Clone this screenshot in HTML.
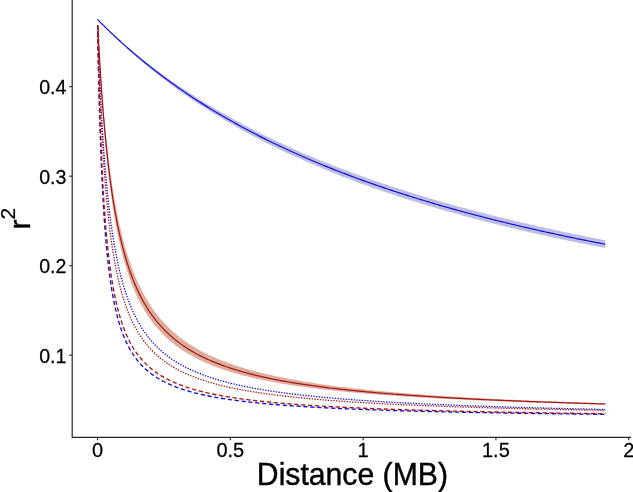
<!DOCTYPE html>
<html><head><meta charset="utf-8"><title>LD decay</title>
<style>
html,body{margin:0;padding:0;background:#fff;}
svg{display:block;}
text{font-family:"Liberation Sans",Arial,Helvetica,sans-serif;fill:#000;}
.t{font-size:20px;stroke:#000;stroke-width:0.25px;}
.ttl{font-size:30px;stroke:#000;stroke-width:0.4px;}
</style></head>
<body>
<svg width="633" height="492" viewBox="0 0 633 492">
<rect width="633" height="492" fill="#ffffff"/>
<path d="M97.50,19.39 L97.50,19.39 L97.50,19.39 L97.51,19.40 L97.52,19.41 L97.53,19.42 L97.55,19.44 L97.57,19.46 L97.59,19.48 L97.62,19.51 L97.65,19.54 L97.69,19.57 L97.73,19.61 L97.77,19.66 L97.82,19.70 L97.87,19.75 L97.93,19.81 L97.99,19.87 L98.06,19.93 L98.13,20.00 L98.20,20.08 L98.28,20.15 L98.36,20.24 L98.45,20.32 L98.55,20.41 L98.65,20.51 L98.75,20.61 L98.86,20.72 L98.97,20.83 L99.09,20.94 L99.21,21.06 L99.34,21.19 L99.47,21.31 L99.61,21.45 L99.75,21.59 L99.90,21.73 L100.06,21.88 L100.21,22.03 L100.38,22.19 L100.55,22.36 L100.72,22.52 L100.90,22.70 L101.09,22.88 L101.28,23.06 L101.47,23.25 L101.67,23.44 L101.88,23.64 L102.09,23.84 L102.31,24.05 L102.53,24.27 L102.76,24.49 L103.00,24.71 L103.24,24.94 L103.48,25.17 L103.73,25.41 L103.99,25.66 L104.25,25.90 L104.52,26.16 L104.80,26.42 L105.08,26.68 L105.36,26.95 L105.65,27.23 L105.95,27.51 L106.25,27.79 L106.56,28.08 L106.87,28.38 L107.20,28.68 L107.52,28.98 L107.85,29.29 L108.19,29.60 L108.53,29.92 L108.88,30.25 L109.24,30.58 L109.60,30.91 L109.97,31.25 L110.34,31.60 L110.72,31.95 L111.11,32.30 L111.50,32.66 L111.90,33.03 L112.30,33.39 L112.71,33.77 L113.13,34.15 L113.55,34.53 L113.98,34.92 L114.42,35.31 L114.86,35.71 L115.30,36.11 L115.76,36.52 L116.22,36.93 L116.68,37.35 L117.15,37.77 L117.63,38.20 L118.12,38.63 L118.61,39.06 L119.10,39.50 L119.61,39.95 L120.12,40.40 L120.63,40.85 L121.16,41.31 L121.69,41.77 L122.22,42.24 L122.76,42.71 L123.31,43.18 L123.86,43.66 L124.43,44.15 L124.99,44.63 L125.57,45.13 L126.15,45.62 L126.73,46.13 L127.33,46.63 L127.93,47.14 L128.53,47.65 L129.15,48.17 L129.77,48.69 L130.39,49.22 L131.02,49.75 L131.66,50.28 L132.31,50.82 L132.96,51.36 L133.62,51.91 L134.29,52.46 L134.96,53.01 L135.64,53.56 L136.32,54.13 L137.01,54.69 L137.71,55.26 L138.42,55.83 L139.13,56.40 L139.85,56.98 L140.58,57.56 L141.31,58.15 L142.05,58.74 L142.79,59.33 L143.55,59.93 L144.30,60.53 L145.07,61.13 L145.84,61.73 L146.62,62.34 L147.41,62.95 L148.20,63.57 L149.00,64.19 L149.81,64.81 L150.62,65.43 L151.44,66.06 L152.27,66.69 L153.11,67.33 L153.95,67.96 L154.80,68.60 L155.65,69.24 L156.51,69.89 L157.38,70.54 L158.26,71.19 L159.14,71.84 L160.03,72.50 L160.93,73.15 L161.83,73.81 L162.74,74.48 L163.66,75.14 L164.59,75.81 L165.52,76.48 L166.46,77.16 L167.40,77.83 L168.35,78.51 L169.31,79.19 L170.28,79.87 L171.25,80.56 L172.24,81.24 L173.22,81.93 L174.22,82.62 L175.22,83.32 L176.23,84.01 L177.25,84.71 L178.27,85.41 L179.30,86.11 L180.34,86.81 L181.38,87.51 L182.44,88.22 L183.50,88.93 L184.56,89.64 L185.64,90.35 L186.72,91.06 L187.80,91.77 L188.90,92.49 L190.00,93.21 L191.11,93.93 L192.23,94.65 L193.35,95.37 L194.48,96.09 L195.62,96.82 L196.77,97.54 L197.92,98.27 L199.08,99.00 L200.25,99.73 L201.42,100.46 L202.61,101.19 L203.80,101.92 L204.99,102.66 L206.20,103.39 L207.41,104.13 L208.63,104.87 L209.85,105.60 L211.09,106.34 L212.33,107.08 L213.58,107.82 L214.83,108.57 L216.09,109.31 L217.36,110.05 L218.64,110.79 L219.93,111.54 L221.22,112.28 L222.52,113.03 L223.83,113.77 L225.14,114.52 L226.46,115.27 L227.79,116.02 L229.13,116.76 L230.47,117.51 L231.82,118.26 L233.18,119.01 L234.55,119.76 L235.93,120.51 L237.31,121.26 L238.70,122.01 L240.09,122.76 L241.50,123.51 L242.91,124.26 L244.33,125.01 L245.75,125.76 L247.19,126.52 L248.63,127.27 L250.08,128.02 L251.54,128.77 L253.00,129.52 L254.47,130.27 L255.95,131.02 L257.44,131.77 L258.94,132.52 L260.44,133.28 L261.95,134.03 L263.47,134.78 L264.99,135.53 L266.52,136.28 L268.06,137.02 L269.61,137.77 L271.17,138.52 L272.73,139.27 L274.30,140.02 L275.88,140.77 L277.47,141.51 L279.06,142.26 L280.66,143.01 L282.27,143.75 L283.89,144.50 L285.51,145.24 L287.14,145.99 L288.78,146.73 L290.43,147.47 L292.09,148.21 L293.75,148.95 L295.42,149.70 L297.10,150.44 L298.79,151.18 L300.48,151.91 L302.18,152.65 L303.89,153.39 L305.61,154.13 L307.33,154.86 L309.07,155.60 L310.81,156.33 L312.56,157.06 L314.31,157.79 L316.08,158.53 L317.85,159.26 L319.63,159.99 L321.42,160.71 L323.21,161.44 L325.01,162.17 L326.82,162.89 L328.64,163.62 L330.47,164.34 L332.30,165.06 L334.15,165.79 L336.00,166.51 L337.85,167.23 L339.72,167.94 L341.59,168.66 L343.48,169.38 L345.37,170.09 L347.26,170.80 L349.17,171.52 L351.08,172.23 L353.00,172.94 L354.93,173.65 L356.87,174.35 L358.81,175.06 L360.77,175.77 L362.73,176.47 L364.69,177.17 L366.67,177.87 L368.66,178.57 L370.65,179.27 L372.65,179.97 L374.66,180.66 L376.67,181.36 L378.70,182.05 L380.73,182.74 L382.77,183.43 L384.82,184.12 L386.87,184.81 L388.94,185.50 L391.01,186.18 L393.09,186.87 L395.18,187.55 L397.28,188.23 L399.38,188.91 L401.49,189.59 L403.61,190.26 L405.74,190.94 L407.88,191.61 L410.02,192.28 L412.18,192.95 L414.34,193.62 L416.51,194.29 L418.68,194.96 L420.87,195.62 L423.06,196.28 L425.26,196.94 L427.47,197.60 L429.69,198.26 L431.91,198.92 L434.15,199.57 L436.39,200.23 L438.64,200.88 L440.90,201.53 L443.16,202.18 L445.44,202.82 L447.72,203.47 L450.01,204.11 L452.31,204.76 L454.61,205.40 L456.93,206.04 L459.25,206.67 L461.58,207.31 L463.92,207.94 L466.27,208.58 L468.62,209.21 L470.99,209.84 L473.36,210.47 L475.74,211.09 L478.13,211.72 L480.53,212.34 L482.93,212.96 L485.34,213.58 L487.76,214.20 L490.19,214.81 L492.63,215.43 L495.08,216.04 L497.53,216.65 L499.99,217.26 L502.47,217.87 L504.94,218.48 L507.43,219.08 L509.93,219.68 L512.43,220.28 L514.94,220.88 L517.46,221.48 L519.99,222.08 L522.53,222.67 L525.07,223.27 L527.63,223.86 L530.19,224.45 L532.76,225.03 L535.34,225.62 L537.92,226.20 L540.52,226.79 L543.12,227.37 L545.73,227.95 L548.35,228.52 L550.98,229.10 L553.62,229.67 L556.26,230.25 L558.92,230.82 L561.58,231.39 L564.25,231.95 L566.92,232.52 L569.61,233.08 L572.31,233.65 L575.01,234.21 L577.72,234.77 L580.44,235.32 L583.17,235.88 L585.91,236.43 L588.65,236.98 L591.41,237.53 L594.17,238.08 L596.94,238.63 L599.72,239.18 L602.50,239.72 L605.30,240.26 L605.30,248.08 L602.50,247.54 L599.72,247.01 L596.94,246.47 L594.17,245.92 L591.41,245.38 L588.65,244.83 L585.91,244.29 L583.17,243.74 L580.44,243.19 L577.72,242.63 L575.01,242.08 L572.31,241.52 L569.61,240.97 L566.92,240.41 L564.25,239.84 L561.58,239.28 L558.92,238.71 L556.26,238.15 L553.62,237.58 L550.98,237.01 L548.35,236.44 L545.73,235.86 L543.12,235.28 L540.52,234.71 L537.92,234.13 L535.34,233.55 L532.76,232.96 L530.19,232.38 L527.63,231.79 L525.07,231.20 L522.53,230.61 L519.99,230.02 L517.46,229.42 L514.94,228.83 L512.43,228.23 L509.93,227.63 L507.43,227.03 L504.94,226.42 L502.47,225.82 L499.99,225.21 L497.53,224.60 L495.08,223.99 L492.63,223.38 L490.19,222.76 L487.76,222.15 L485.34,221.53 L482.93,220.91 L480.53,220.29 L478.13,219.66 L475.74,219.04 L473.36,218.41 L470.99,217.78 L468.62,217.15 L466.27,216.52 L463.92,215.89 L461.58,215.25 L459.25,214.61 L456.93,213.97 L454.61,213.33 L452.31,212.69 L450.01,212.04 L447.72,211.40 L445.44,210.75 L443.16,210.10 L440.90,209.44 L438.64,208.79 L436.39,208.14 L434.15,207.48 L431.91,206.82 L429.69,206.16 L427.47,205.50 L425.26,204.83 L423.06,204.17 L420.87,203.50 L418.68,202.83 L416.51,202.16 L414.34,201.48 L412.18,200.81 L410.02,200.13 L407.88,199.46 L405.74,198.78 L403.61,198.09 L401.49,197.41 L399.38,196.73 L397.28,196.04 L395.18,195.35 L393.09,194.66 L391.01,193.97 L388.94,193.28 L386.87,192.58 L384.82,191.89 L382.77,191.19 L380.73,190.49 L378.70,189.79 L376.67,189.09 L374.66,188.38 L372.65,187.68 L370.65,186.97 L368.66,186.26 L366.67,185.55 L364.69,184.84 L362.73,184.13 L360.77,183.41 L358.81,182.70 L356.87,181.98 L354.93,181.26 L353.00,180.54 L351.08,179.82 L349.17,179.09 L347.26,178.37 L345.37,177.64 L343.48,176.91 L341.59,176.19 L339.72,175.46 L337.85,174.72 L336.00,173.99 L334.15,173.26 L332.30,172.52 L330.47,171.78 L328.64,171.04 L326.82,170.31 L325.01,169.56 L323.21,168.82 L321.42,168.08 L319.63,167.33 L317.85,166.59 L316.08,165.84 L314.31,165.09 L312.56,164.34 L310.81,163.59 L309.07,162.84 L307.33,162.09 L305.61,161.34 L303.89,160.58 L302.18,159.83 L300.48,159.07 L298.79,158.31 L297.10,157.55 L295.42,156.79 L293.75,156.03 L292.09,155.27 L290.43,154.51 L288.78,153.75 L287.14,152.98 L285.51,152.22 L283.89,151.45 L282.27,150.69 L280.66,149.92 L279.06,149.15 L277.47,148.38 L275.88,147.61 L274.30,146.84 L272.73,146.07 L271.17,145.30 L269.61,144.53 L268.06,143.75 L266.52,142.98 L264.99,142.21 L263.47,141.43 L261.95,140.66 L260.44,139.88 L258.94,139.11 L257.44,138.33 L255.95,137.55 L254.47,136.78 L253.00,136.00 L251.54,135.22 L250.08,134.44 L248.63,133.67 L247.19,132.89 L245.75,132.11 L244.33,131.33 L242.91,130.55 L241.50,129.77 L240.09,128.99 L238.70,128.22 L237.31,127.44 L235.93,126.66 L234.55,125.88 L233.18,125.10 L231.82,124.32 L230.47,123.54 L229.13,122.76 L227.79,121.99 L226.46,121.21 L225.14,120.43 L223.83,119.65 L222.52,118.87 L221.22,118.10 L219.93,117.32 L218.64,116.55 L217.36,115.77 L216.09,114.99 L214.83,114.22 L213.58,113.45 L212.33,112.67 L211.09,111.90 L209.85,111.13 L208.63,110.36 L207.41,109.59 L206.20,108.82 L204.99,108.05 L203.80,107.28 L202.61,106.51 L201.42,105.74 L200.25,104.98 L199.08,104.21 L197.92,103.45 L196.77,102.69 L195.62,101.93 L194.48,101.17 L193.35,100.41 L192.23,99.65 L191.11,98.89 L190.00,98.14 L188.90,97.38 L187.80,96.63 L186.72,95.88 L185.64,95.13 L184.56,94.38 L183.50,93.64 L182.44,92.89 L181.38,92.15 L180.34,91.41 L179.30,90.67 L178.27,89.93 L177.25,89.19 L176.23,88.46 L175.22,87.72 L174.22,86.99 L173.22,86.26 L172.24,85.54 L171.25,84.81 L170.28,84.09 L169.31,83.37 L168.35,82.65 L167.40,81.93 L166.46,81.22 L165.52,80.51 L164.59,79.80 L163.66,79.09 L162.74,78.39 L161.83,77.68 L160.93,76.98 L160.03,76.29 L159.14,75.59 L158.26,74.90 L157.38,74.21 L156.51,73.52 L155.65,72.84 L154.80,72.16 L153.95,71.48 L153.11,70.80 L152.27,70.13 L151.44,69.46 L150.62,68.79 L149.81,68.13 L149.00,67.47 L148.20,66.81 L147.41,66.16 L146.62,65.51 L145.84,64.86 L145.07,64.21 L144.30,63.57 L143.55,62.93 L142.79,62.30 L142.05,61.67 L141.31,61.04 L140.58,60.42 L139.85,59.80 L139.13,59.18 L138.42,58.56 L137.71,57.95 L137.01,57.35 L136.32,56.75 L135.64,56.15 L134.96,55.55 L134.29,54.96 L133.62,54.38 L132.96,53.79 L132.31,53.21 L131.66,52.64 L131.02,52.07 L130.39,51.50 L129.77,50.94 L129.15,50.38 L128.53,49.83 L127.93,49.28 L127.33,48.73 L126.73,48.19 L126.15,47.65 L125.57,47.12 L124.99,46.59 L124.43,46.07 L123.86,45.55 L123.31,45.04 L122.76,44.53 L122.22,44.02 L121.69,43.52 L121.16,43.02 L120.63,42.53 L120.12,42.05 L119.61,41.56 L119.10,41.09 L118.61,40.61 L118.12,40.15 L117.63,39.68 L117.15,39.23 L116.68,38.77 L116.22,38.32 L115.76,37.88 L115.30,37.44 L114.86,37.01 L114.42,36.58 L113.98,36.16 L113.55,35.74 L113.13,35.33 L112.71,34.92 L112.30,34.52 L111.90,34.12 L111.50,33.73 L111.11,33.34 L110.72,32.96 L110.34,32.58 L109.97,32.21 L109.60,31.84 L109.24,31.48 L108.88,31.13 L108.53,30.78 L108.19,30.43 L107.85,30.09 L107.52,29.76 L107.20,29.43 L106.87,29.11 L106.56,28.79 L106.25,28.48 L105.95,28.17 L105.65,27.87 L105.36,27.57 L105.08,27.28 L104.80,26.99 L104.52,26.71 L104.25,26.44 L103.99,26.17 L103.73,25.91 L103.48,25.65 L103.24,25.39 L103.00,25.15 L102.76,24.90 L102.53,24.67 L102.31,24.44 L102.09,24.21 L101.88,23.99 L101.67,23.78 L101.47,23.57 L101.28,23.36 L101.09,23.16 L100.90,22.97 L100.72,22.78 L100.55,22.60 L100.38,22.42 L100.21,22.25 L100.06,22.09 L99.90,21.93 L99.75,21.77 L99.61,21.62 L99.47,21.47 L99.34,21.33 L99.21,21.20 L99.09,21.07 L98.97,20.95 L98.86,20.83 L98.75,20.71 L98.65,20.60 L98.55,20.50 L98.45,20.40 L98.36,20.31 L98.28,20.22 L98.20,20.13 L98.13,20.05 L98.06,19.98 L97.99,19.91 L97.93,19.85 L97.87,19.79 L97.82,19.73 L97.77,19.68 L97.73,19.63 L97.69,19.59 L97.65,19.55 L97.62,19.52 L97.59,19.49 L97.57,19.46 L97.55,19.44 L97.53,19.43 L97.52,19.41 L97.51,19.40 L97.50,19.39 L97.50,19.39 L97.50,19.39Z" fill="#0000a0" fill-opacity="0.26"/>
<path d="M97.77,23.74 L97.77,23.86 L97.82,24.77 L97.87,25.76 L97.93,26.82 L97.99,27.96 L98.06,29.17 L98.13,30.46 L98.20,31.83 L98.28,33.27 L98.36,34.78 L98.45,36.36 L98.55,38.02 L98.65,39.74 L98.75,41.53 L98.86,43.39 L98.97,45.31 L99.09,47.30 L99.21,49.34 L99.34,51.45 L99.47,53.61 L99.61,55.83 L99.75,58.11 L99.90,60.43 L100.06,62.80 L100.21,65.23 L100.38,67.69 L100.55,70.20 L100.72,72.75 L100.90,75.34 L101.09,77.96 L101.28,80.62 L101.47,83.31 L101.67,86.03 L101.88,88.78 L102.09,91.55 L102.31,94.35 L102.53,97.17 L102.76,100.00 L103.00,102.86 L103.24,105.72 L103.48,108.61 L103.73,111.50 L103.99,114.40 L104.25,117.31 L104.52,120.22 L104.80,123.14 L105.08,126.06 L105.36,128.98 L105.65,131.90 L105.95,134.81 L106.25,137.72 L106.56,140.63 L106.87,143.53 L107.20,146.42 L107.52,149.30 L107.85,152.18 L108.19,155.04 L108.53,157.88 L108.88,160.71 L109.24,163.53 L109.60,166.33 L109.97,169.12 L110.34,171.89 L110.72,174.64 L111.11,177.37 L111.50,180.08 L111.90,182.77 L112.30,185.44 L112.71,188.09 L113.13,190.71 L113.55,193.32 L113.98,195.90 L114.42,198.46 L114.86,200.99 L115.30,203.50 L115.76,205.99 L116.22,208.45 L116.68,210.88 L117.15,213.30 L117.63,215.68 L118.12,218.04 L118.61,220.38 L119.10,222.69 L119.61,224.97 L120.12,227.23 L120.63,229.47 L121.16,231.68 L121.69,233.86 L122.22,236.02 L122.76,238.15 L123.31,240.25 L123.86,242.33 L124.43,244.39 L124.99,246.42 L125.57,248.43 L126.15,250.41 L126.73,252.36 L127.33,254.29 L127.93,256.20 L128.53,258.08 L129.15,259.94 L129.77,261.78 L130.39,263.59 L131.02,265.38 L131.66,267.14 L132.31,268.88 L132.96,270.60 L133.62,272.30 L134.29,273.97 L134.96,275.62 L135.64,277.25 L136.32,278.86 L137.01,280.45 L137.71,282.01 L138.42,283.55 L139.13,285.08 L139.85,286.58 L140.58,288.06 L141.31,289.53 L142.05,290.97 L142.79,292.39 L143.55,293.80 L144.30,295.18 L145.07,296.55 L145.84,297.90 L146.62,299.23 L147.41,300.54 L148.20,301.83 L149.00,303.11 L149.81,304.37 L150.62,305.61 L151.44,306.83 L152.27,308.04 L153.11,309.24 L153.95,310.41 L154.80,311.57 L155.65,312.72 L156.51,313.84 L157.38,314.96 L158.26,316.06 L159.14,317.14 L160.03,318.21 L160.93,319.26 L161.83,320.31 L162.74,321.33 L163.66,322.34 L164.59,323.34 L165.52,324.33 L166.46,325.30 L167.40,326.26 L168.35,327.21 L169.31,328.14 L170.28,329.07 L171.25,329.98 L172.24,330.87 L173.22,331.76 L174.22,332.63 L175.22,333.50 L176.23,334.35 L177.25,335.19 L178.27,336.02 L179.30,336.84 L180.34,337.64 L181.38,338.44 L182.44,339.23 L183.50,340.00 L184.56,340.77 L185.64,341.53 L186.72,342.27 L187.80,343.01 L188.90,343.74 L190.00,344.46 L191.11,345.17 L192.23,345.87 L193.35,346.56 L194.48,347.24 L195.62,347.91 L196.77,348.58 L197.92,349.24 L199.08,349.89 L200.25,350.53 L201.42,351.16 L202.61,351.78 L203.80,352.40 L204.99,353.01 L206.20,353.61 L207.41,354.21 L208.63,354.79 L209.85,355.37 L211.09,355.95 L212.33,356.51 L213.58,357.07 L214.83,357.62 L216.09,358.17 L217.36,358.71 L218.64,359.24 L219.93,359.77 L221.22,360.28 L222.52,360.80 L223.83,361.30 L225.14,361.81 L226.46,362.30 L227.79,362.79 L229.13,363.27 L230.47,363.75 L231.82,364.22 L233.18,364.69 L234.55,365.15 L235.93,365.61 L237.31,366.06 L238.70,366.50 L240.09,366.94 L241.50,367.38 L242.91,367.81 L244.33,368.23 L245.75,368.65 L247.19,369.07 L248.63,369.48 L250.08,369.88 L251.54,370.29 L253.00,370.68 L254.47,371.07 L255.95,371.46 L257.44,371.85 L258.94,372.23 L260.44,372.60 L261.95,372.97 L263.47,373.34 L264.99,373.70 L266.52,374.06 L268.06,374.41 L269.61,374.77 L271.17,375.11 L272.73,375.46 L274.30,375.79 L275.88,376.13 L277.47,376.46 L279.06,376.79 L280.66,377.12 L282.27,377.44 L283.89,377.76 L285.51,378.08 L287.14,378.40 L288.78,378.72 L290.43,379.04 L292.09,379.35 L293.75,379.65 L295.42,379.96 L297.10,380.26 L298.79,380.56 L300.48,380.85 L302.18,381.15 L303.89,381.43 L305.61,381.72 L307.33,382.00 L309.07,382.28 L310.81,382.56 L312.56,382.83 L314.31,383.11 L316.08,383.38 L317.85,383.64 L319.63,383.90 L321.42,384.17 L323.21,384.42 L325.01,384.68 L326.82,384.93 L328.64,385.18 L330.47,385.43 L332.30,385.68 L334.15,385.92 L336.00,386.16 L337.85,386.40 L339.72,386.63 L341.59,386.87 L343.48,387.10 L345.37,387.33 L347.26,387.56 L349.17,387.78 L351.08,388.00 L353.00,388.22 L354.93,388.44 L356.87,388.66 L358.81,388.87 L360.77,389.08 L362.73,389.29 L364.69,389.50 L366.67,389.71 L368.66,389.91 L370.65,390.11 L372.65,390.32 L374.66,390.51 L376.67,390.71 L378.70,390.90 L380.73,391.10 L382.77,391.29 L384.82,391.48 L386.87,391.67 L388.94,391.85 L391.01,392.04 L393.09,392.22 L395.18,392.40 L397.28,392.58 L399.38,392.76 L401.49,392.93 L403.61,393.11 L405.74,393.28 L407.88,393.45 L410.02,393.62 L412.18,393.79 L414.34,393.95 L416.51,394.12 L418.68,394.28 L420.87,394.45 L423.06,394.61 L425.26,394.77 L427.47,394.92 L429.69,395.08 L431.91,395.24 L434.15,395.39 L436.39,395.54 L438.64,395.69 L440.90,395.84 L443.16,395.99 L445.44,396.14 L447.72,396.28 L450.01,396.43 L452.31,396.57 L454.61,396.71 L456.93,396.86 L459.25,397.00 L461.58,397.13 L463.92,397.27 L466.27,397.41 L468.62,397.54 L470.99,397.68 L473.36,397.81 L475.74,397.94 L478.13,398.07 L480.53,398.20 L482.93,398.33 L485.34,398.46 L487.76,398.58 L490.19,398.71 L492.63,398.83 L495.08,398.96 L497.53,399.08 L499.99,399.19 L502.47,399.31 L504.94,399.43 L507.43,399.54 L509.93,399.66 L512.43,399.77 L514.94,399.88 L517.46,400.00 L519.99,400.11 L522.53,400.22 L525.07,400.33 L527.63,400.43 L530.19,400.54 L532.76,400.65 L535.34,400.75 L537.92,400.86 L540.52,400.96 L543.12,401.06 L545.73,401.17 L548.35,401.27 L550.98,401.37 L553.62,401.47 L556.26,401.57 L558.92,401.67 L561.58,401.76 L564.25,401.86 L566.92,401.96 L569.61,402.05 L572.31,402.15 L575.01,402.24 L577.72,402.33 L580.44,402.43 L583.17,402.52 L585.91,402.61 L588.65,402.70 L591.41,402.79 L594.17,402.88 L596.94,402.97 L599.72,403.05 L602.50,403.14 L605.30,403.23 L605.30,404.66 L602.50,404.58 L599.72,404.51 L596.94,404.44 L594.17,404.36 L591.41,404.29 L588.65,404.22 L585.91,404.14 L583.17,404.06 L580.44,403.99 L577.72,403.91 L575.01,403.83 L572.31,403.76 L569.61,403.68 L566.92,403.60 L564.25,403.52 L561.58,403.44 L558.92,403.35 L556.26,403.27 L553.62,403.19 L550.98,403.11 L548.35,403.02 L545.73,402.94 L543.12,402.85 L540.52,402.77 L537.92,402.68 L535.34,402.59 L532.76,402.50 L530.19,402.42 L527.63,402.33 L525.07,402.24 L522.53,402.14 L519.99,402.05 L517.46,401.96 L514.94,401.87 L512.43,401.77 L509.93,401.68 L507.43,401.58 L504.94,401.49 L502.47,401.39 L499.99,401.29 L497.53,401.19 L495.08,401.09 L492.63,400.99 L490.19,400.90 L487.76,400.80 L485.34,400.70 L482.93,400.59 L480.53,400.49 L478.13,400.39 L475.74,400.28 L473.36,400.18 L470.99,400.07 L468.62,399.97 L466.27,399.86 L463.92,399.75 L461.58,399.64 L459.25,399.53 L456.93,399.42 L454.61,399.30 L452.31,399.19 L450.01,399.08 L447.72,398.96 L445.44,398.84 L443.16,398.73 L440.90,398.61 L438.64,398.49 L436.39,398.37 L434.15,398.25 L431.91,398.12 L429.69,398.00 L427.47,397.87 L425.26,397.75 L423.06,397.62 L420.87,397.49 L418.68,397.36 L416.51,397.23 L414.34,397.10 L412.18,396.96 L410.02,396.83 L407.88,396.69 L405.74,396.56 L403.61,396.42 L401.49,396.28 L399.38,396.14 L397.28,395.99 L395.18,395.85 L393.09,395.70 L391.01,395.56 L388.94,395.41 L386.87,395.26 L384.82,395.11 L382.77,394.96 L380.73,394.80 L378.70,394.65 L376.67,394.49 L374.66,394.33 L372.65,394.17 L370.65,394.01 L368.66,393.85 L366.67,393.69 L364.69,393.52 L362.73,393.35 L360.77,393.18 L358.81,393.01 L356.87,392.84 L354.93,392.67 L353.00,392.49 L351.08,392.31 L349.17,392.13 L347.26,391.95 L345.37,391.77 L343.48,391.58 L341.59,391.40 L339.72,391.21 L337.85,391.02 L336.00,390.82 L334.15,390.63 L332.30,390.43 L330.47,390.23 L328.64,390.03 L326.82,389.83 L325.01,389.63 L323.21,389.42 L321.42,389.21 L319.63,389.00 L317.85,388.79 L316.08,388.57 L314.31,388.35 L312.56,388.13 L310.81,387.91 L309.07,387.68 L307.33,387.46 L305.61,387.23 L303.89,386.99 L302.18,386.76 L300.48,386.52 L298.79,386.28 L297.10,386.04 L295.42,385.79 L293.75,385.55 L292.09,385.30 L290.43,385.04 L288.78,384.79 L287.14,384.53 L285.51,384.27 L283.89,384.00 L282.27,383.73 L280.66,383.45 L279.06,383.17 L277.47,382.89 L275.88,382.60 L274.30,382.31 L272.73,382.01 L271.17,381.72 L269.61,381.42 L268.06,381.11 L266.52,380.81 L264.99,380.50 L263.47,380.18 L261.95,379.86 L260.44,379.54 L258.94,379.22 L257.44,378.89 L255.95,378.56 L254.47,378.22 L253.00,377.88 L251.54,377.53 L250.08,377.18 L248.63,376.83 L247.19,376.47 L245.75,376.11 L244.33,375.75 L242.91,375.38 L241.50,375.00 L240.09,374.62 L238.70,374.24 L237.31,373.85 L235.93,373.46 L234.55,373.06 L233.18,372.66 L231.82,372.25 L230.47,371.84 L229.13,371.42 L227.79,371.00 L226.46,370.57 L225.14,370.14 L223.83,369.70 L222.52,369.26 L221.22,368.81 L219.93,368.35 L218.64,367.89 L217.36,367.43 L216.09,366.95 L214.83,366.47 L213.58,365.99 L212.33,365.50 L211.09,365.00 L209.85,364.50 L208.63,363.99 L207.41,363.47 L206.20,362.95 L204.99,362.42 L203.80,361.88 L202.61,361.34 L201.42,360.78 L200.25,360.23 L199.08,359.66 L197.92,359.09 L196.77,358.51 L195.62,357.92 L194.48,357.32 L193.35,356.71 L192.23,356.10 L191.11,355.48 L190.00,354.85 L188.90,354.21 L187.80,353.57 L186.72,352.91 L185.64,352.25 L184.56,351.57 L183.50,350.89 L182.44,350.20 L181.38,349.50 L180.34,348.79 L179.30,348.06 L178.27,347.33 L177.25,346.59 L176.23,345.84 L175.22,345.08 L174.22,344.30 L173.22,343.52 L172.24,342.73 L171.25,341.92 L170.28,341.10 L169.31,340.27 L168.35,339.43 L167.40,338.58 L166.46,337.71 L165.52,336.83 L164.59,335.94 L163.66,335.04 L162.74,334.12 L161.83,333.19 L160.93,332.25 L160.03,331.29 L159.14,330.32 L158.26,329.34 L157.38,328.34 L156.51,327.33 L155.65,326.30 L154.80,325.25 L153.95,324.19 L153.11,323.12 L152.27,322.03 L151.44,320.92 L150.62,319.80 L149.81,318.66 L149.00,317.50 L148.20,316.33 L147.41,315.14 L146.62,313.93 L145.84,312.70 L145.07,311.45 L144.30,310.19 L143.55,308.91 L142.79,307.61 L142.05,306.28 L141.31,304.94 L140.58,303.58 L139.85,302.20 L139.13,300.80 L138.42,299.37 L137.71,297.93 L137.01,296.46 L136.32,294.97 L135.64,293.46 L134.96,291.93 L134.29,290.38 L133.62,288.80 L132.96,287.19 L132.31,285.57 L131.66,283.92 L131.02,282.24 L130.39,280.54 L129.77,278.82 L129.15,277.07 L128.53,275.29 L127.93,273.49 L127.33,271.66 L126.73,269.81 L126.15,267.93 L125.57,266.02 L124.99,264.08 L124.43,262.12 L123.86,260.13 L123.31,258.11 L122.76,256.06 L122.22,253.98 L121.69,251.87 L121.16,249.74 L120.63,247.58 L120.12,245.38 L119.61,243.16 L119.10,240.91 L118.61,238.62 L118.12,236.31 L117.63,233.97 L117.15,231.59 L116.68,229.19 L116.22,226.75 L115.76,224.29 L115.30,221.80 L114.86,219.27 L114.42,216.72 L113.98,214.13 L113.55,211.52 L113.13,208.87 L112.71,206.20 L112.30,203.50 L111.90,200.77 L111.50,198.01 L111.11,195.22 L110.72,192.41 L110.34,189.57 L109.97,186.70 L109.60,183.81 L109.24,180.89 L108.88,177.94 L108.53,174.98 L108.19,171.99 L107.85,168.98 L107.52,165.95 L107.20,162.90 L106.87,159.83 L106.56,156.74 L106.25,153.64 L105.95,150.52 L105.65,147.39 L105.36,144.25 L105.08,141.10 L104.80,137.94 L104.52,134.77 L104.25,131.60 L103.99,128.43 L103.73,125.25 L103.48,122.08 L103.24,118.91 L103.00,115.74 L102.76,112.58 L102.53,109.43 L102.31,106.30 L102.09,103.18 L101.88,100.07 L101.67,96.99 L101.47,93.93 L101.28,90.89 L101.09,87.88 L100.90,84.91 L100.72,81.96 L100.55,79.06 L100.38,76.19 L100.21,73.36 L100.06,70.58 L99.90,67.85 L99.75,65.16 L99.61,62.53 L99.47,59.96 L99.34,57.45 L99.21,54.99 L99.09,52.61 L98.97,50.28 L98.86,48.03 L98.75,45.85 L98.65,43.74 L98.55,41.71 L98.45,39.76 L98.36,37.89 L98.28,36.10 L98.20,34.39 L98.13,32.77 L98.06,31.24 L97.99,29.79 L97.93,28.43 L97.87,27.17 L97.82,25.99 L97.77,24.90 L97.77,24.76Z" fill="#b8502c" fill-opacity="0.47"/>
<path d="M97.50,19.39 L97.50,19.39 L97.50,19.39 L97.51,19.40 L97.52,19.41 L97.53,19.42 L97.55,19.44 L97.57,19.46 L97.59,19.49 L97.62,19.51 L97.65,19.55 L97.69,19.58 L97.73,19.62 L97.77,19.67 L97.82,19.72 L97.87,19.77 L97.93,19.83 L97.99,19.89 L98.06,19.96 L98.13,20.03 L98.20,20.11 L98.28,20.19 L98.36,20.27 L98.45,20.36 L98.55,20.46 L98.65,20.56 L98.75,20.66 L98.86,20.77 L98.97,20.89 L99.09,21.01 L99.21,21.13 L99.34,21.26 L99.47,21.39 L99.61,21.53 L99.75,21.68 L99.90,21.83 L100.06,21.98 L100.21,22.14 L100.38,22.31 L100.55,22.48 L100.72,22.65 L100.90,22.83 L101.09,23.02 L101.28,23.21 L101.47,23.41 L101.67,23.61 L101.88,23.82 L102.09,24.03 L102.31,24.25 L102.53,24.47 L102.76,24.70 L103.00,24.93 L103.24,25.17 L103.48,25.41 L103.73,25.66 L103.99,25.91 L104.25,26.17 L104.52,26.44 L104.80,26.71 L105.08,26.98 L105.36,27.26 L105.65,27.55 L105.95,27.84 L106.25,28.13 L106.56,28.43 L106.87,28.74 L107.20,29.05 L107.52,29.37 L107.85,29.69 L108.19,30.02 L108.53,30.35 L108.88,30.69 L109.24,31.03 L109.60,31.38 L109.97,31.73 L110.34,32.09 L110.72,32.45 L111.11,32.82 L111.50,33.19 L111.90,33.57 L112.30,33.96 L112.71,34.34 L113.13,34.74 L113.55,35.14 L113.98,35.54 L114.42,35.95 L114.86,36.36 L115.30,36.78 L115.76,37.20 L116.22,37.63 L116.68,38.06 L117.15,38.50 L117.63,38.94 L118.12,39.39 L118.61,39.84 L119.10,40.30 L119.61,40.76 L120.12,41.22 L120.63,41.69 L121.16,42.17 L121.69,42.65 L122.22,43.13 L122.76,43.62 L123.31,44.11 L123.86,44.61 L124.43,45.11 L124.99,45.62 L125.57,46.13 L126.15,46.64 L126.73,47.16 L127.33,47.68 L127.93,48.21 L128.53,48.74 L129.15,49.28 L129.77,49.82 L130.39,50.36 L131.02,50.91 L131.66,51.46 L132.31,52.02 L132.96,52.58 L133.62,53.15 L134.29,53.71 L134.96,54.29 L135.64,54.86 L136.32,55.44 L137.01,56.02 L137.71,56.61 L138.42,57.20 L139.13,57.80 L139.85,58.39 L140.58,59.00 L141.31,59.60 L142.05,60.21 L142.79,60.82 L143.55,61.44 L144.30,62.06 L145.07,62.68 L145.84,63.30 L146.62,63.93 L147.41,64.56 L148.20,65.20 L149.00,65.84 L149.81,66.48 L150.62,67.12 L151.44,67.77 L152.27,68.42 L153.11,69.07 L153.95,69.73 L154.80,70.39 L155.65,71.05 L156.51,71.72 L157.38,72.38 L158.26,73.05 L159.14,73.73 L160.03,74.40 L160.93,75.08 L161.83,75.76 L162.74,76.44 L163.66,77.13 L164.59,77.82 L165.52,78.51 L166.46,79.20 L167.40,79.90 L168.35,80.59 L169.31,81.29 L170.28,81.99 L171.25,82.70 L172.24,83.40 L173.22,84.11 L174.22,84.82 L175.22,85.53 L176.23,86.25 L177.25,86.96 L178.27,87.68 L179.30,88.40 L180.34,89.12 L181.38,89.85 L182.44,90.57 L183.50,91.30 L184.56,92.03 L185.64,92.76 L186.72,93.49 L187.80,94.22 L188.90,94.96 L190.00,95.69 L191.11,96.43 L192.23,97.17 L193.35,97.91 L194.48,98.65 L195.62,99.39 L196.77,100.14 L197.92,100.88 L199.08,101.63 L200.25,102.38 L201.42,103.12 L202.61,103.87 L203.80,104.62 L204.99,105.38 L206.20,106.13 L207.41,106.88 L208.63,107.64 L209.85,108.39 L211.09,109.15 L212.33,109.90 L213.58,110.66 L214.83,111.42 L216.09,112.18 L217.36,112.94 L218.64,113.70 L219.93,114.46 L221.22,115.22 L222.52,115.98 L223.83,116.74 L225.14,117.50 L226.46,118.27 L227.79,119.03 L229.13,119.79 L230.47,120.56 L231.82,121.32 L233.18,122.09 L234.55,122.85 L235.93,123.62 L237.31,124.38 L238.70,125.15 L240.09,125.91 L241.50,126.68 L242.91,127.44 L244.33,128.21 L245.75,128.97 L247.19,129.74 L248.63,130.50 L250.08,131.27 L251.54,132.03 L253.00,132.80 L254.47,133.56 L255.95,134.33 L257.44,135.09 L258.94,135.85 L260.44,136.62 L261.95,137.38 L263.47,138.14 L264.99,138.91 L266.52,139.67 L268.06,140.43 L269.61,141.19 L271.17,141.95 L272.73,142.71 L274.30,143.47 L275.88,144.23 L277.47,144.99 L279.06,145.75 L280.66,146.51 L282.27,147.26 L283.89,148.02 L285.51,148.77 L287.14,149.53 L288.78,150.28 L290.43,151.04 L292.09,151.79 L293.75,152.54 L295.42,153.29 L297.10,154.04 L298.79,154.79 L300.48,155.54 L302.18,156.29 L303.89,157.04 L305.61,157.78 L307.33,158.53 L309.07,159.27 L310.81,160.01 L312.56,160.76 L314.31,161.50 L316.08,162.24 L317.85,162.98 L319.63,163.71 L321.42,164.45 L323.21,165.19 L325.01,165.92 L326.82,166.65 L328.64,167.39 L330.47,168.12 L332.30,168.85 L334.15,169.58 L336.00,170.31 L337.85,171.03 L339.72,171.76 L341.59,172.48 L343.48,173.20 L345.37,173.93 L347.26,174.65 L349.17,175.36 L351.08,176.08 L353.00,176.80 L354.93,177.51 L356.87,178.23 L358.81,178.94 L360.77,179.65 L362.73,180.36 L364.69,181.07 L366.67,181.78 L368.66,182.48 L370.65,183.18 L372.65,183.89 L374.66,184.59 L376.67,185.29 L378.70,185.99 L380.73,186.68 L382.77,187.38 L384.82,188.07 L386.87,188.76 L388.94,189.45 L391.01,190.14 L393.09,190.83 L395.18,191.52 L397.28,192.20 L399.38,192.89 L401.49,193.57 L403.61,194.25 L405.74,194.93 L407.88,195.60 L410.02,196.28 L412.18,196.95 L414.34,197.62 L416.51,198.29 L418.68,198.96 L420.87,199.63 L423.06,200.30 L425.26,200.96 L427.47,201.62 L429.69,202.28 L431.91,202.94 L434.15,203.60 L436.39,204.25 L438.64,204.91 L440.90,205.56 L443.16,206.21 L445.44,206.86 L447.72,207.51 L450.01,208.15 L452.31,208.80 L454.61,209.44 L456.93,210.08 L459.25,210.72 L461.58,211.36 L463.92,211.99 L466.27,212.63 L468.62,213.26 L470.99,213.89 L473.36,214.52 L475.74,215.14 L478.13,215.77 L480.53,216.39 L482.93,217.01 L485.34,217.63 L487.76,218.25 L490.19,218.87 L492.63,219.48 L495.08,220.10 L497.53,220.71 L499.99,221.32 L502.47,221.92 L504.94,222.53 L507.43,223.13 L509.93,223.74 L512.43,224.34 L514.94,224.94 L517.46,225.53 L519.99,226.13 L522.53,226.72 L525.07,227.32 L527.63,227.91 L530.19,228.49 L532.76,229.08 L535.34,229.67 L537.92,230.25 L540.52,230.83 L543.12,231.41 L545.73,231.99 L548.35,232.56 L550.98,233.14 L553.62,233.71 L556.26,234.28 L558.92,234.85 L561.58,235.42 L564.25,235.98 L566.92,236.55 L569.61,237.11 L572.31,237.67 L575.01,238.23 L577.72,238.79 L580.44,239.34 L583.17,239.90 L585.91,240.45 L588.65,241.00 L591.41,241.55 L594.17,242.09 L596.94,242.64 L599.72,243.18 L602.50,243.72 L605.30,244.26" fill="none" stroke="#1010dc" stroke-width="1.2" stroke-linejoin="round"/>
<path d="M97.60,25.50 L97.62,26.49 L97.65,28.28 L97.69,30.29 L97.73,32.50 L97.77,34.92 L97.82,37.53 L97.87,40.34 L97.93,43.34 L97.99,46.52 L98.06,49.87 L98.13,53.38 L98.20,57.05 L98.28,60.87 L98.36,64.82 L98.45,68.90 L98.55,73.10 L98.65,77.40 L98.75,81.80 L98.86,86.29 L98.97,90.86 L99.09,95.49 L99.21,100.18 L99.34,104.92 L99.47,109.69 L99.61,114.50 L99.75,119.33 L99.90,124.17 L100.06,129.01 L100.21,133.86 L100.38,138.69 L100.55,143.51 L100.72,148.31 L100.90,153.08 L101.09,157.82 L101.28,162.52 L101.47,167.18 L101.67,171.79 L101.88,176.36 L102.09,180.87 L102.31,185.33 L102.53,189.72 L102.76,194.06 L103.00,198.33 L103.24,202.54 L103.48,206.68 L103.73,210.76 L103.99,214.76 L104.25,218.70 L104.52,222.57 L104.80,226.37 L105.08,230.09 L105.36,233.75 L105.65,237.34 L105.95,240.85 L106.25,244.30 L106.56,247.68 L106.87,250.99 L107.20,254.23 L107.52,257.40 L107.85,260.50 L108.19,263.55 L108.53,266.52 L108.88,269.43 L109.24,272.28 L109.60,275.07 L109.97,277.79 L110.34,280.46 L110.72,283.07 L111.11,285.62 L111.50,288.11 L111.90,290.55 L112.30,292.93 L112.71,295.26 L113.13,297.54 L113.55,299.76 L113.98,301.94 L114.42,304.07 L114.86,306.15 L115.30,308.18 L115.76,310.17 L116.22,312.11 L116.68,314.02 L117.15,315.87 L117.63,317.69 L118.12,319.47 L118.61,321.20 L119.10,322.90 L119.61,324.56 L120.12,326.19 L120.63,327.77 L121.16,329.33 L121.69,330.85 L122.22,332.33 L122.76,333.79 L123.31,335.21 L123.86,336.60 L124.43,337.96 L124.99,339.29 L125.57,340.60 L126.15,341.87 L126.73,343.12 L127.33,344.34 L127.93,345.54 L128.53,346.71 L129.15,347.86 L129.77,348.98 L130.39,350.08 L131.02,351.15 L131.66,352.21 L132.31,353.24 L132.96,354.25 L133.62,355.24 L134.29,356.21 L134.96,357.16 L135.64,358.09 L136.32,359.00 L137.01,359.90 L137.71,360.77 L138.42,361.63 L139.13,362.48 L139.85,363.30 L140.58,364.11 L141.31,364.90 L142.05,365.68 L142.79,366.44 L143.55,367.19 L144.30,367.93 L145.07,368.65 L145.84,369.35 L146.62,370.05 L147.41,370.73 L148.20,371.39 L149.00,372.05 L149.81,372.69 L150.62,373.32 L151.44,373.94 L152.27,374.55 L153.11,375.14 L153.95,375.73 L154.80,376.30 L155.65,376.87 L156.51,377.42 L157.38,377.97 L158.26,378.50 L159.14,379.03 L160.03,379.54 L160.93,380.05 L161.83,380.55 L162.74,381.04 L163.66,381.52 L164.59,381.99 L165.52,382.46 L166.46,382.92 L167.40,383.37 L168.35,383.81 L169.31,384.24 L170.28,384.67 L171.25,385.09 L172.24,385.50 L173.22,385.91 L174.22,386.30 L175.22,386.70 L176.23,387.08 L177.25,387.46 L178.27,387.84 L179.30,388.20 L180.34,388.57 L181.38,388.92 L182.44,389.27 L183.50,389.62 L184.56,389.96 L185.64,390.29 L186.72,390.62 L187.80,390.94 L188.90,391.26 L190.00,391.58 L191.11,391.88 L192.23,392.19 L193.35,392.49 L194.48,392.78 L195.62,393.07 L196.77,393.36 L197.92,393.64 L199.08,393.92 L200.25,394.19 L201.42,394.46 L202.61,394.73 L203.80,394.99 L204.99,395.25 L206.20,395.50 L207.41,395.75 L208.63,396.00 L209.85,396.24 L211.09,396.48 L212.33,396.72 L213.58,396.95 L214.83,397.18 L216.09,397.40 L217.36,397.63 L218.64,397.85 L219.93,398.06 L221.22,398.28 L222.52,398.49 L223.83,398.70 L225.14,398.90 L226.46,399.10 L227.79,399.30 L229.13,399.50 L230.47,399.69 L231.82,399.88 L233.18,400.07 L234.55,400.26 L235.93,400.44 L237.31,400.63 L238.70,400.80 L240.09,400.98 L241.50,401.16 L242.91,401.33 L244.33,401.50 L245.75,401.66 L247.19,401.83 L248.63,401.99 L250.08,402.15 L251.54,402.31 L253.00,402.47 L254.47,402.63 L255.95,402.78 L257.44,402.93 L258.94,403.08 L260.44,403.23 L261.95,403.37 L263.47,403.52 L264.99,403.66 L266.52,403.80 L268.06,403.94 L269.61,404.07 L271.17,404.21 L272.73,404.34 L274.30,404.48 L275.88,404.61 L277.47,404.73 L279.06,404.86 L280.66,404.99 L282.27,405.11 L283.89,405.23 L285.51,405.36 L287.14,405.48 L288.78,405.59 L290.43,405.71 L292.09,405.83 L293.75,405.94 L295.42,406.05 L297.10,406.17 L298.79,406.28 L300.48,406.39 L302.18,406.49 L303.89,406.60 L305.61,406.71 L307.33,406.81 L309.07,406.91 L310.81,407.01 L312.56,407.12 L314.31,407.22 L316.08,407.31 L317.85,407.41 L319.63,407.51 L321.42,407.60 L323.21,407.70 L325.01,407.79 L326.82,407.88 L328.64,407.97 L330.47,408.06 L332.30,408.15 L334.15,408.24 L336.00,408.33 L337.85,408.42 L339.72,408.50 L341.59,408.59 L343.48,408.67 L345.37,408.75 L347.26,408.83 L349.17,408.91 L351.08,408.99 L353.00,409.07 L354.93,409.15 L356.87,409.23 L358.81,409.31 L360.77,409.38 L362.73,409.46 L364.69,409.53 L366.67,409.61 L368.66,409.68 L370.65,409.75 L372.65,409.82 L374.66,409.89 L376.67,409.96 L378.70,410.03 L380.73,410.10 L382.77,410.17 L384.82,410.24 L386.87,410.31 L388.94,410.37 L391.01,410.44 L393.09,410.50 L395.18,410.57 L397.28,410.63 L399.38,410.69 L401.49,410.75 L403.61,410.82 L405.74,410.88 L407.88,410.94 L410.02,411.00 L412.18,411.06 L414.34,411.12 L416.51,411.17 L418.68,411.23 L420.87,411.29 L423.06,411.34 L425.26,411.40 L427.47,411.46 L429.69,411.51 L431.91,411.57 L434.15,411.62 L436.39,411.67 L438.64,411.73 L440.90,411.78 L443.16,411.83 L445.44,411.88 L447.72,411.93 L450.01,411.98 L452.31,412.03 L454.61,412.08 L456.93,412.13 L459.25,412.18 L461.58,412.23 L463.92,412.28 L466.27,412.32 L468.62,412.37 L470.99,412.42 L473.36,412.46 L475.74,412.51 L478.13,412.56 L480.53,412.60 L482.93,412.65 L485.34,412.69 L487.76,412.73 L490.19,412.78 L492.63,412.82 L495.08,412.86 L497.53,412.90 L499.99,412.95 L502.47,412.99 L504.94,413.03 L507.43,413.07 L509.93,413.11 L512.43,413.15 L514.94,413.19 L517.46,413.23 L519.99,413.27 L522.53,413.31 L525.07,413.35 L527.63,413.38 L530.19,413.42 L532.76,413.46 L535.34,413.50 L537.92,413.53 L540.52,413.57 L543.12,413.61 L545.73,413.64 L548.35,413.68 L550.98,413.71 L553.62,413.75 L556.26,413.78 L558.92,413.82 L561.58,413.85 L564.25,413.89 L566.92,413.92 L569.61,413.95 L572.31,413.99 L575.01,414.02 L577.72,414.05 L580.44,414.09 L583.17,414.12 L585.91,414.15 L588.65,414.18 L591.41,414.21 L594.17,414.24 L596.94,414.27 L599.72,414.30 L602.50,414.34 L605.30,414.37" fill="none" stroke="#1010dc" stroke-width="1.35" stroke-dasharray="4.3 2.6" stroke-linejoin="round"/>
<path d="M97.70,25.50 L97.73,26.34 L97.77,27.66 L97.82,29.08 L97.87,30.63 L97.93,32.29 L97.99,34.06 L98.06,35.94 L98.13,37.93 L98.20,40.03 L98.28,42.24 L98.36,44.54 L98.45,46.95 L98.55,49.45 L98.65,52.04 L98.75,54.72 L98.86,57.48 L98.97,60.33 L99.09,63.25 L99.21,66.24 L99.34,69.31 L99.47,72.43 L99.61,75.62 L99.75,78.87 L99.90,82.16 L100.06,85.51 L100.21,88.90 L100.38,92.32 L100.55,95.79 L100.72,99.28 L100.90,102.80 L101.09,106.35 L101.28,109.91 L101.47,113.49 L101.67,117.09 L101.88,120.69 L102.09,124.30 L102.31,127.91 L102.53,131.53 L102.76,135.14 L103.00,138.74 L103.24,142.33 L103.48,145.92 L103.73,149.49 L103.99,153.04 L104.25,156.58 L104.52,160.09 L104.80,163.59 L105.08,167.06 L105.36,170.50 L105.65,173.92 L105.95,177.31 L106.25,180.67 L106.56,184.00 L106.87,187.29 L107.20,190.56 L107.52,193.78 L107.85,196.98 L108.19,200.14 L108.53,203.26 L108.88,206.34 L109.24,209.39 L109.60,212.40 L109.97,215.37 L110.34,218.31 L110.72,221.20 L111.11,224.06 L111.50,226.87 L111.90,229.65 L112.30,232.39 L112.71,235.09 L113.13,237.75 L113.55,240.37 L113.98,242.95 L114.42,245.49 L114.86,248.00 L115.30,250.47 L115.76,252.90 L116.22,255.29 L116.68,257.64 L117.15,259.96 L117.63,262.24 L118.12,264.48 L118.61,266.69 L119.10,268.86 L119.61,271.00 L120.12,273.10 L120.63,275.17 L121.16,277.21 L121.69,279.21 L122.22,281.18 L122.76,283.11 L123.31,285.02 L123.86,286.89 L124.43,288.73 L124.99,290.54 L125.57,292.32 L126.15,294.08 L126.73,295.80 L127.33,297.49 L127.93,299.15 L128.53,300.79 L129.15,302.40 L129.77,303.98 L130.39,305.54 L131.02,307.07 L131.66,308.57 L132.31,310.05 L132.96,311.51 L133.62,312.94 L134.29,314.34 L134.96,315.73 L135.64,317.08 L136.32,318.42 L137.01,319.74 L137.71,321.03 L138.42,322.30 L139.13,323.55 L139.85,324.78 L140.58,325.99 L141.31,327.18 L142.05,328.35 L142.79,329.50 L143.55,330.63 L144.30,331.75 L145.07,332.84 L145.84,333.92 L146.62,334.98 L147.41,336.02 L148.20,337.05 L149.00,338.06 L149.81,339.05 L150.62,340.03 L151.44,340.99 L152.27,341.94 L153.11,342.87 L153.95,343.78 L154.80,344.68 L155.65,345.57 L156.51,346.45 L157.38,347.31 L158.26,348.15 L159.14,348.99 L160.03,349.81 L160.93,350.61 L161.83,351.41 L162.74,352.19 L163.66,352.96 L164.59,353.72 L165.52,354.47 L166.46,355.20 L167.40,355.93 L168.35,356.64 L169.31,357.34 L170.28,358.04 L171.25,358.72 L172.24,359.39 L173.22,360.05 L174.22,360.70 L175.22,361.35 L176.23,361.98 L177.25,362.60 L178.27,363.21 L179.30,363.82 L180.34,364.42 L181.38,365.00 L182.44,365.58 L183.50,366.15 L184.56,366.72 L185.64,367.27 L186.72,367.82 L187.80,368.36 L188.90,368.89 L190.00,369.41 L191.11,369.93 L192.23,370.43 L193.35,370.94 L194.48,371.43 L195.62,371.92 L196.77,372.40 L197.92,372.87 L199.08,373.34 L200.25,373.80 L201.42,374.26 L202.61,374.71 L203.80,375.15 L204.99,375.59 L206.20,376.02 L207.41,376.44 L208.63,376.86 L209.85,377.27 L211.09,377.68 L212.33,378.09 L213.58,378.48 L214.83,378.87 L216.09,379.26 L217.36,379.64 L218.64,380.02 L219.93,380.39 L221.22,380.76 L222.52,381.12 L223.83,381.48 L225.14,381.83 L226.46,382.18 L227.79,382.53 L229.13,382.86 L230.47,383.20 L231.82,383.53 L233.18,383.86 L234.55,384.18 L235.93,384.50 L237.31,384.81 L238.70,385.13 L240.09,385.43 L241.50,385.74 L242.91,386.03 L244.33,386.33 L245.75,386.62 L247.19,386.91 L248.63,387.20 L250.08,387.48 L251.54,387.76 L253.00,388.03 L254.47,388.30 L255.95,388.57 L257.44,388.84 L258.94,389.10 L260.44,389.36 L261.95,389.61 L263.47,389.87 L264.99,390.12 L266.52,390.36 L268.06,390.61 L269.61,390.85 L271.17,391.09 L272.73,391.32 L274.30,391.55 L275.88,391.78 L277.47,392.01 L279.06,392.24 L280.66,392.46 L282.27,392.68 L283.89,392.90 L285.51,393.11 L287.14,393.32 L288.78,393.53 L290.43,393.74 L292.09,393.95 L293.75,394.15 L295.42,394.35 L297.10,394.55 L298.79,394.75 L300.48,394.94 L302.18,395.13 L303.89,395.32 L305.61,395.51 L307.33,395.70 L309.07,395.88 L310.81,396.06 L312.56,396.24 L314.31,396.42 L316.08,396.60 L317.85,396.77 L319.63,396.94 L321.42,397.11 L323.21,397.28 L325.01,397.45 L326.82,397.62 L328.64,397.78 L330.47,397.94 L332.30,398.10 L334.15,398.26 L336.00,398.42 L337.85,398.57 L339.72,398.73 L341.59,398.88 L343.48,399.03 L345.37,399.18 L347.26,399.33 L349.17,399.47 L351.08,399.62 L353.00,399.76 L354.93,399.90 L356.87,400.04 L358.81,400.18 L360.77,400.32 L362.73,400.45 L364.69,400.59 L366.67,400.72 L368.66,400.85 L370.65,400.98 L372.65,401.11 L374.66,401.24 L376.67,401.37 L378.70,401.49 L380.73,401.62 L382.77,401.74 L384.82,401.86 L386.87,401.99 L388.94,402.11 L391.01,402.22 L393.09,402.34 L395.18,402.46 L397.28,402.57 L399.38,402.69 L401.49,402.80 L403.61,402.91 L405.74,403.02 L407.88,403.13 L410.02,403.24 L412.18,403.35 L414.34,403.46 L416.51,403.56 L418.68,403.67 L420.87,403.77 L423.06,403.88 L425.26,403.98 L427.47,404.08 L429.69,404.18 L431.91,404.28 L434.15,404.38 L436.39,404.47 L438.64,404.57 L440.90,404.67 L443.16,404.76 L445.44,404.86 L447.72,404.95 L450.01,405.04 L452.31,405.13 L454.61,405.22 L456.93,405.31 L459.25,405.40 L461.58,405.49 L463.92,405.58 L466.27,405.67 L468.62,405.75 L470.99,405.84 L473.36,405.92 L475.74,406.01 L478.13,406.09 L480.53,406.17 L482.93,406.25 L485.34,406.34 L487.76,406.42 L490.19,406.50 L492.63,406.58 L495.08,406.65 L497.53,406.73 L499.99,406.81 L502.47,406.88 L504.94,406.96 L507.43,407.04 L509.93,407.11 L512.43,407.18 L514.94,407.26 L517.46,407.33 L519.99,407.40 L522.53,407.47 L525.07,407.54 L527.63,407.61 L530.19,407.68 L532.76,407.75 L535.34,407.82 L537.92,407.89 L540.52,407.96 L543.12,408.02 L545.73,408.09 L548.35,408.16 L550.98,408.22 L553.62,408.29 L556.26,408.35 L558.92,408.41 L561.58,408.48 L564.25,408.54 L566.92,408.60 L569.61,408.66 L572.31,408.73 L575.01,408.79 L577.72,408.85 L580.44,408.91 L583.17,408.97 L585.91,409.03 L588.65,409.08 L591.41,409.14 L594.17,409.20 L596.94,409.26 L599.72,409.31 L602.50,409.37 L605.30,409.43" fill="none" stroke="#1010dc" stroke-width="1.3" stroke-dasharray="1.35 1.35" stroke-linejoin="round"/>
<path d="M97.62,25.50 L97.62,25.70 L97.65,27.30 L97.69,29.09 L97.73,31.06 L97.77,33.22 L97.82,35.56 L97.87,38.08 L97.93,40.77 L97.99,43.63 L98.06,46.65 L98.13,49.82 L98.20,53.14 L98.28,56.60 L98.36,60.20 L98.45,63.91 L98.55,67.75 L98.65,71.69 L98.75,75.73 L98.86,79.86 L98.97,84.07 L99.09,88.36 L99.21,92.71 L99.34,97.11 L99.47,101.57 L99.61,106.06 L99.75,110.59 L99.90,115.15 L100.06,119.72 L100.21,124.30 L100.38,128.89 L100.55,133.48 L100.72,138.05 L100.90,142.62 L101.09,147.17 L101.28,151.69 L101.47,156.19 L101.67,160.65 L101.88,165.08 L102.09,169.47 L102.31,173.82 L102.53,178.12 L102.76,182.37 L103.00,186.57 L103.24,190.72 L103.48,194.81 L103.73,198.85 L103.99,202.83 L104.25,206.75 L104.52,210.60 L104.80,214.40 L105.08,218.14 L105.36,221.81 L105.65,225.42 L105.95,228.97 L106.25,232.45 L106.56,235.87 L106.87,239.23 L107.20,242.52 L107.52,245.76 L107.85,248.93 L108.19,252.04 L108.53,255.09 L108.88,258.07 L109.24,261.00 L109.60,263.87 L109.97,266.69 L110.34,269.44 L110.72,272.14 L111.11,274.78 L111.50,277.37 L111.90,279.90 L112.30,282.38 L112.71,284.81 L113.13,287.19 L113.55,289.52 L113.98,291.80 L114.42,294.03 L114.86,296.21 L115.30,298.35 L115.76,300.44 L116.22,302.49 L116.68,304.49 L117.15,306.46 L117.63,308.38 L118.12,310.26 L118.61,312.10 L119.10,313.90 L119.61,315.66 L120.12,317.38 L120.63,319.07 L121.16,320.73 L121.69,322.35 L122.22,323.93 L122.76,325.48 L123.31,327.00 L123.86,328.49 L124.43,329.95 L124.99,331.37 L125.57,332.77 L126.15,334.14 L126.73,335.48 L127.33,336.79 L127.93,338.08 L128.53,339.33 L129.15,340.57 L129.77,341.78 L130.39,342.96 L131.02,344.12 L131.66,345.26 L132.31,346.37 L132.96,347.47 L133.62,348.54 L134.29,349.59 L134.96,350.62 L135.64,351.62 L136.32,352.61 L137.01,353.58 L137.71,354.53 L138.42,355.47 L139.13,356.38 L139.85,357.28 L140.58,358.16 L141.31,359.02 L142.05,359.87 L142.79,360.70 L143.55,361.51 L144.30,362.31 L145.07,363.10 L145.84,363.87 L146.62,364.62 L147.41,365.37 L148.20,366.09 L149.00,366.81 L149.81,367.51 L150.62,368.20 L151.44,368.88 L152.27,369.54 L153.11,370.20 L153.95,370.84 L154.80,371.47 L155.65,372.09 L156.51,372.69 L157.38,373.29 L158.26,373.88 L159.14,374.45 L160.03,375.02 L160.93,375.58 L161.83,376.12 L162.74,376.66 L163.66,377.19 L164.59,377.71 L165.52,378.22 L166.46,378.72 L167.40,379.22 L168.35,379.70 L169.31,380.18 L170.28,380.65 L171.25,381.11 L172.24,381.57 L173.22,382.02 L174.22,382.46 L175.22,382.89 L176.23,383.31 L177.25,383.73 L178.27,384.15 L179.30,384.55 L180.34,384.95 L181.38,385.34 L182.44,385.73 L183.50,386.11 L184.56,386.49 L185.64,386.86 L186.72,387.22 L187.80,387.58 L188.90,387.93 L190.00,388.28 L191.11,388.62 L192.23,388.95 L193.35,389.28 L194.48,389.61 L195.62,389.93 L196.77,390.25 L197.92,390.56 L199.08,390.87 L200.25,391.17 L201.42,391.47 L202.61,391.76 L203.80,392.05 L204.99,392.34 L206.20,392.62 L207.41,392.90 L208.63,393.17 L209.85,393.44 L211.09,393.71 L212.33,393.97 L213.58,394.23 L214.83,394.48 L216.09,394.73 L217.36,394.98 L218.64,395.22 L219.93,395.46 L221.22,395.70 L222.52,395.94 L223.83,396.17 L225.14,396.40 L226.46,396.62 L227.79,396.84 L229.13,397.06 L230.47,397.28 L231.82,397.49 L233.18,397.70 L234.55,397.91 L235.93,398.11 L237.31,398.31 L238.70,398.51 L240.09,398.71 L241.50,398.90 L242.91,399.09 L244.33,399.28 L245.75,399.47 L247.19,399.65 L248.63,399.84 L250.08,400.01 L251.54,400.19 L253.00,400.37 L254.47,400.54 L255.95,400.71 L257.44,400.88 L258.94,401.05 L260.44,401.21 L261.95,401.37 L263.47,401.53 L264.99,401.69 L266.52,401.85 L268.06,402.00 L269.61,402.15 L271.17,402.30 L272.73,402.45 L274.30,402.60 L275.88,402.75 L277.47,402.89 L279.06,403.03 L280.66,403.17 L282.27,403.31 L283.89,403.45 L285.51,403.58 L287.14,403.72 L288.78,403.85 L290.43,403.98 L292.09,404.11 L293.75,404.24 L295.42,404.36 L297.10,404.49 L298.79,404.61 L300.48,404.73 L302.18,404.85 L303.89,404.97 L305.61,405.09 L307.33,405.21 L309.07,405.32 L310.81,405.44 L312.56,405.55 L314.31,405.66 L316.08,405.77 L317.85,405.88 L319.63,405.99 L321.42,406.09 L323.21,406.20 L325.01,406.30 L326.82,406.41 L328.64,406.51 L330.47,406.61 L332.30,406.71 L334.15,406.81 L336.00,406.90 L337.85,407.00 L339.72,407.10 L341.59,407.19 L343.48,407.28 L345.37,407.38 L347.26,407.47 L349.17,407.56 L351.08,407.65 L353.00,407.74 L354.93,407.83 L356.87,407.91 L358.81,408.00 L360.77,408.08 L362.73,408.17 L364.69,408.25 L366.67,408.33 L368.66,408.42 L370.65,408.50 L372.65,408.58 L374.66,408.66 L376.67,408.73 L378.70,408.81 L380.73,408.89 L382.77,408.97 L384.82,409.04 L386.87,409.12 L388.94,409.19 L391.01,409.26 L393.09,409.34 L395.18,409.41 L397.28,409.48 L399.38,409.55 L401.49,409.62 L403.61,409.69 L405.74,409.76 L407.88,409.82 L410.02,409.89 L412.18,409.96 L414.34,410.02 L416.51,410.09 L418.68,410.15 L420.87,410.22 L423.06,410.28 L425.26,410.34 L427.47,410.41 L429.69,410.47 L431.91,410.53 L434.15,410.59 L436.39,410.65 L438.64,410.71 L440.90,410.77 L443.16,410.82 L445.44,410.88 L447.72,410.94 L450.01,411.00 L452.31,411.05 L454.61,411.11 L456.93,411.16 L459.25,411.22 L461.58,411.27 L463.92,411.33 L466.27,411.38 L468.62,411.43 L470.99,411.48 L473.36,411.54 L475.74,411.59 L478.13,411.64 L480.53,411.69 L482.93,411.74 L485.34,411.79 L487.76,411.84 L490.19,411.89 L492.63,411.93 L495.08,411.98 L497.53,412.03 L499.99,412.08 L502.47,412.12 L504.94,412.17 L507.43,412.22 L509.93,412.26 L512.43,412.31 L514.94,412.35 L517.46,412.39 L519.99,412.44 L522.53,412.48 L525.07,412.53 L527.63,412.57 L530.19,412.61 L532.76,412.65 L535.34,412.69 L537.92,412.74 L540.52,412.78 L543.12,412.82 L545.73,412.86 L548.35,412.90 L550.98,412.94 L553.62,412.98 L556.26,413.02 L558.92,413.06 L561.58,413.09 L564.25,413.13 L566.92,413.17 L569.61,413.21 L572.31,413.24 L575.01,413.28 L577.72,413.32 L580.44,413.35 L583.17,413.39 L585.91,413.43 L588.65,413.46 L591.41,413.50 L594.17,413.53 L596.94,413.57 L599.72,413.60 L602.50,413.64 L605.30,413.67" fill="none" stroke="#a61515" stroke-width="1.35" stroke-dasharray="4.3 2.6" stroke-linejoin="round"/>
<path d="M97.68,25.50 L97.69,25.71 L97.73,27.10 L97.77,28.63 L97.82,30.29 L97.87,32.08 L97.93,34.00 L97.99,36.06 L98.06,38.23 L98.13,40.54 L98.20,42.96 L98.28,45.49 L98.36,48.14 L98.45,50.89 L98.55,53.75 L98.65,56.71 L98.75,59.76 L98.86,62.90 L98.97,66.12 L99.09,69.43 L99.21,72.80 L99.34,76.25 L99.47,79.76 L99.61,83.32 L99.75,86.94 L99.90,90.61 L100.06,94.32 L100.21,98.07 L100.38,101.85 L100.55,105.65 L100.72,109.49 L100.90,113.34 L101.09,117.20 L101.28,121.08 L101.47,124.96 L101.67,128.84 L101.88,132.72 L102.09,136.60 L102.31,140.47 L102.53,144.32 L102.76,148.16 L103.00,151.99 L103.24,155.79 L103.48,159.57 L103.73,163.33 L103.99,167.05 L104.25,170.75 L104.52,174.42 L104.80,178.05 L105.08,181.65 L105.36,185.21 L105.65,188.73 L105.95,192.22 L106.25,195.66 L106.56,199.06 L106.87,202.43 L107.20,205.75 L107.52,209.02 L107.85,212.25 L108.19,215.44 L108.53,218.58 L108.88,221.68 L109.24,224.74 L109.60,227.74 L109.97,230.71 L110.34,233.63 L110.72,236.50 L111.11,239.33 L111.50,242.11 L111.90,244.85 L112.30,247.54 L112.71,250.19 L113.13,252.80 L113.55,255.36 L113.98,257.88 L114.42,260.35 L114.86,262.79 L115.30,265.18 L115.76,267.53 L116.22,269.84 L116.68,272.11 L117.15,274.35 L117.63,276.54 L118.12,278.69 L118.61,280.81 L119.10,282.88 L119.61,284.92 L120.12,286.93 L120.63,288.90 L121.16,290.83 L121.69,292.73 L122.22,294.59 L122.76,296.42 L123.31,298.22 L123.86,299.99 L124.43,301.72 L124.99,303.42 L125.57,305.10 L126.15,306.74 L126.73,308.35 L127.33,309.93 L127.93,311.49 L128.53,313.02 L129.15,314.52 L129.77,315.99 L130.39,317.43 L131.02,318.86 L131.66,320.25 L132.31,321.62 L132.96,322.97 L133.62,324.29 L134.29,325.59 L134.96,326.86 L135.64,328.12 L136.32,329.35 L137.01,330.56 L137.71,331.75 L138.42,332.91 L139.13,334.06 L139.85,335.19 L140.58,336.29 L141.31,337.38 L142.05,338.45 L142.79,339.50 L143.55,340.54 L144.30,341.55 L145.07,342.55 L145.84,343.53 L146.62,344.49 L147.41,345.44 L148.20,346.37 L149.00,347.29 L149.81,348.19 L150.62,349.08 L151.44,349.95 L152.27,350.80 L153.11,351.64 L153.95,352.47 L154.80,353.29 L155.65,354.09 L156.51,354.88 L157.38,355.65 L158.26,356.41 L159.14,357.16 L160.03,357.90 L160.93,358.63 L161.83,359.34 L162.74,360.04 L163.66,360.74 L164.59,361.42 L165.52,362.09 L166.46,362.75 L167.40,363.39 L168.35,364.03 L169.31,364.66 L170.28,365.28 L171.25,365.89 L172.24,366.49 L173.22,367.08 L174.22,367.66 L175.22,368.24 L176.23,368.80 L177.25,369.36 L178.27,369.90 L179.30,370.44 L180.34,370.97 L181.38,371.49 L182.44,372.01 L183.50,372.52 L184.56,373.02 L185.64,373.51 L186.72,373.99 L187.80,374.47 L188.90,374.94 L190.00,375.41 L191.11,375.86 L192.23,376.32 L193.35,376.76 L194.48,377.20 L195.62,377.63 L196.77,378.06 L197.92,378.47 L199.08,378.89 L200.25,379.30 L201.42,379.70 L202.61,380.09 L203.80,380.49 L204.99,380.87 L206.20,381.25 L207.41,381.63 L208.63,382.00 L209.85,382.36 L211.09,382.72 L212.33,383.08 L213.58,383.43 L214.83,383.77 L216.09,384.11 L217.36,384.45 L218.64,384.78 L219.93,385.11 L221.22,385.43 L222.52,385.75 L223.83,386.06 L225.14,386.37 L226.46,386.68 L227.79,386.98 L229.13,387.28 L230.47,387.57 L231.82,387.86 L233.18,388.15 L234.55,388.43 L235.93,388.71 L237.31,388.99 L238.70,389.26 L240.09,389.53 L241.50,389.80 L242.91,390.06 L244.33,390.32 L245.75,390.57 L247.19,390.83 L248.63,391.07 L250.08,391.32 L251.54,391.56 L253.00,391.81 L254.47,392.04 L255.95,392.28 L257.44,392.51 L258.94,392.74 L260.44,392.96 L261.95,393.19 L263.47,393.41 L264.99,393.63 L266.52,393.84 L268.06,394.05 L269.61,394.26 L271.17,394.47 L272.73,394.68 L274.30,394.88 L275.88,395.08 L277.47,395.28 L279.06,395.48 L280.66,395.67 L282.27,395.86 L283.89,396.05 L285.51,396.24 L287.14,396.42 L288.78,396.61 L290.43,396.79 L292.09,396.97 L293.75,397.14 L295.42,397.32 L297.10,397.49 L298.79,397.66 L300.48,397.83 L302.18,398.00 L303.89,398.16 L305.61,398.33 L307.33,398.49 L309.07,398.65 L310.81,398.81 L312.56,398.96 L314.31,399.12 L316.08,399.27 L317.85,399.42 L319.63,399.57 L321.42,399.72 L323.21,399.87 L325.01,400.01 L326.82,400.16 L328.64,400.30 L330.47,400.44 L332.30,400.58 L334.15,400.72 L336.00,400.85 L337.85,400.99 L339.72,401.12 L341.59,401.25 L343.48,401.38 L345.37,401.51 L347.26,401.64 L349.17,401.77 L351.08,401.89 L353.00,402.02 L354.93,402.14 L356.87,402.26 L358.81,402.38 L360.77,402.50 L362.73,402.62 L364.69,402.73 L366.67,402.85 L368.66,402.96 L370.65,403.08 L372.65,403.19 L374.66,403.30 L376.67,403.41 L378.70,403.52 L380.73,403.63 L382.77,403.73 L384.82,403.84 L386.87,403.94 L388.94,404.05 L391.01,404.15 L393.09,404.25 L395.18,404.35 L397.28,404.45 L399.38,404.55 L401.49,404.65 L403.61,404.75 L405.74,404.84 L407.88,404.94 L410.02,405.03 L412.18,405.12 L414.34,405.22 L416.51,405.31 L418.68,405.40 L420.87,405.49 L423.06,405.58 L425.26,405.67 L427.47,405.75 L429.69,405.84 L431.91,405.93 L434.15,406.01 L436.39,406.10 L438.64,406.18 L440.90,406.26 L443.16,406.34 L445.44,406.42 L447.72,406.50 L450.01,406.58 L452.31,406.66 L454.61,406.74 L456.93,406.82 L459.25,406.90 L461.58,406.97 L463.92,407.05 L466.27,407.12 L468.62,407.20 L470.99,407.27 L473.36,407.34 L475.74,407.42 L478.13,407.49 L480.53,407.56 L482.93,407.63 L485.34,407.70 L487.76,407.77 L490.19,407.84 L492.63,407.91 L495.08,407.97 L497.53,408.04 L499.99,408.11 L502.47,408.17 L504.94,408.24 L507.43,408.30 L509.93,408.37 L512.43,408.43 L514.94,408.49 L517.46,408.56 L519.99,408.62 L522.53,408.68 L525.07,408.74 L527.63,408.80 L530.19,408.86 L532.76,408.92 L535.34,408.98 L537.92,409.04 L540.52,409.10 L543.12,409.16 L545.73,409.21 L548.35,409.27 L550.98,409.33 L553.62,409.38 L556.26,409.44 L558.92,409.49 L561.58,409.55 L564.25,409.60 L566.92,409.65 L569.61,409.71 L572.31,409.76 L575.01,409.81 L577.72,409.86 L580.44,409.91 L583.17,409.97 L585.91,410.02 L588.65,410.07 L591.41,410.12 L594.17,410.17 L596.94,410.22 L599.72,410.26 L602.50,410.31 L605.30,410.36" fill="none" stroke="#a61515" stroke-width="1.3" stroke-dasharray="1.35 1.35" stroke-linejoin="round"/>
<path d="M97.83,25.50 L97.87,26.46 L97.93,27.63 L97.99,28.88 L98.06,30.21 L98.13,31.62 L98.20,33.11 L98.28,34.69 L98.36,36.34 L98.45,38.07 L98.55,39.87 L98.65,41.75 L98.75,43.70 L98.86,45.72 L98.97,47.81 L99.09,49.97 L99.21,52.19 L99.34,54.47 L99.47,56.82 L99.61,59.22 L99.75,61.67 L99.90,64.18 L100.06,66.74 L100.21,69.34 L100.38,71.99 L100.55,74.69 L100.72,77.42 L100.90,80.19 L101.09,83.00 L101.28,85.84 L101.47,88.71 L101.67,91.60 L101.88,94.53 L102.09,97.47 L102.31,100.44 L102.53,103.42 L102.76,106.42 L103.00,109.43 L103.24,112.46 L103.48,115.49 L103.73,118.53 L103.99,121.58 L104.25,124.63 L104.52,127.68 L104.80,130.73 L105.08,133.78 L105.36,136.82 L105.65,139.86 L105.95,142.89 L106.25,145.92 L106.56,148.93 L106.87,151.93 L107.20,154.92 L107.52,157.90 L107.85,160.85 L108.19,163.80 L108.53,166.72 L108.88,169.63 L109.24,172.52 L109.60,175.39 L109.97,178.23 L110.34,181.06 L110.72,183.86 L111.11,186.64 L111.50,189.40 L111.90,192.13 L112.30,194.84 L112.71,197.52 L113.13,200.17 L113.55,202.81 L113.98,205.41 L114.42,207.99 L114.86,210.54 L115.30,213.06 L115.76,215.55 L116.22,218.02 L116.68,220.46 L117.15,222.88 L117.63,225.26 L118.12,227.62 L118.61,229.95 L119.10,232.25 L119.61,234.52 L120.12,236.76 L120.63,238.98 L121.16,241.17 L121.69,243.33 L122.22,245.47 L122.76,247.58 L123.31,249.66 L123.86,251.71 L124.43,253.73 L124.99,255.73 L125.57,257.71 L126.15,259.65 L126.73,261.57 L127.33,263.47 L127.93,265.34 L128.53,267.18 L129.15,269.00 L129.77,270.79 L130.39,272.56 L131.02,274.31 L131.66,276.03 L132.31,277.72 L132.96,279.40 L133.62,281.04 L134.29,282.67 L134.96,284.27 L135.64,285.86 L136.32,287.42 L137.01,288.95 L137.71,290.47 L138.42,291.96 L139.13,293.43 L139.85,294.89 L140.58,296.32 L141.31,297.73 L142.05,299.12 L142.79,300.49 L143.55,301.84 L144.30,303.18 L145.07,304.49 L145.84,305.79 L146.62,307.06 L147.41,308.32 L148.20,309.56 L149.00,310.79 L149.81,311.99 L150.62,313.18 L151.44,314.36 L152.27,315.51 L153.11,316.65 L153.95,317.78 L154.80,318.88 L155.65,319.98 L156.51,321.05 L157.38,322.11 L158.26,323.16 L159.14,324.19 L160.03,325.21 L160.93,326.22 L161.83,327.21 L162.74,328.18 L163.66,329.14 L164.59,330.09 L165.52,331.03 L166.46,331.95 L167.40,332.86 L168.35,333.76 L169.31,334.65 L170.28,335.52 L171.25,336.38 L172.24,337.23 L173.22,338.07 L174.22,338.90 L175.22,339.71 L176.23,340.52 L177.25,341.31 L178.27,342.09 L179.30,342.87 L180.34,343.63 L181.38,344.38 L182.44,345.12 L183.50,345.85 L184.56,346.58 L185.64,347.29 L186.72,347.99 L187.80,348.69 L188.90,349.37 L190.00,350.05 L191.11,350.72 L192.23,351.37 L193.35,352.02 L194.48,352.66 L195.62,353.30 L196.77,353.92 L197.92,354.54 L199.08,355.15 L200.25,355.75 L201.42,356.34 L202.61,356.93 L203.80,357.51 L204.99,358.08 L206.20,358.64 L207.41,359.20 L208.63,359.75 L209.85,360.29 L211.09,360.83 L212.33,361.36 L213.58,361.88 L214.83,362.40 L216.09,362.91 L217.36,363.41 L218.64,363.91 L219.93,364.40 L221.22,364.88 L222.52,365.36 L223.83,365.84 L225.14,366.30 L226.46,366.77 L227.79,367.22 L229.13,367.67 L230.47,368.12 L231.82,368.56 L233.18,368.99 L234.55,369.42 L235.93,369.85 L237.31,370.27 L238.70,370.68 L240.09,371.09 L241.50,371.50 L242.91,371.90 L244.33,372.29 L245.75,372.68 L247.19,373.07 L248.63,373.45 L250.08,373.83 L251.54,374.20 L253.00,374.57 L254.47,374.94 L255.95,375.30 L257.44,375.65 L258.94,376.01 L260.44,376.35 L261.95,376.70 L263.47,377.04 L264.99,377.38 L266.52,377.71 L268.06,378.04 L269.61,378.36 L271.17,378.69 L272.73,379.00 L274.30,379.32 L275.88,379.63 L277.47,379.94 L279.06,380.24 L280.66,380.54 L282.27,380.84 L283.89,381.14 L285.51,381.43 L287.14,381.72 L288.78,382.00 L290.43,382.29 L292.09,382.56 L293.75,382.84 L295.42,383.11 L297.10,383.38 L298.79,383.65 L300.48,383.92 L302.18,384.18 L303.89,384.44 L305.61,384.69 L307.33,384.95 L309.07,385.20 L310.81,385.45 L312.56,385.69 L314.31,385.94 L316.08,386.18 L317.85,386.42 L319.63,386.65 L321.42,386.89 L323.21,387.12 L325.01,387.35 L326.82,387.57 L328.64,387.80 L330.47,388.02 L332.30,388.24 L334.15,388.46 L336.00,388.67 L337.85,388.89 L339.72,389.10 L341.59,389.31 L343.48,389.51 L345.37,389.72 L347.26,389.92 L349.17,390.12 L351.08,390.32 L353.00,390.52 L354.93,390.71 L356.87,390.91 L358.81,391.10 L360.77,391.29 L362.73,391.47 L364.69,391.66 L366.67,391.84 L368.66,392.03 L370.65,392.21 L372.65,392.39 L374.66,392.56 L376.67,392.74 L378.70,392.91 L380.73,393.08 L382.77,393.25 L384.82,393.42 L386.87,393.59 L388.94,393.76 L391.01,393.92 L393.09,394.08 L395.18,394.25 L397.28,394.40 L399.38,394.56 L401.49,394.72 L403.61,394.88 L405.74,395.03 L407.88,395.18 L410.02,395.33 L412.18,395.48 L414.34,395.63 L416.51,395.78 L418.68,395.92 L420.87,396.07 L423.06,396.21 L425.26,396.35 L427.47,396.50 L429.69,396.63 L431.91,396.77 L434.15,396.91 L436.39,397.05 L438.64,397.18 L440.90,397.31 L443.16,397.45 L445.44,397.58 L447.72,397.71 L450.01,397.84 L452.31,397.96 L454.61,398.09 L456.93,398.22 L459.25,398.34 L461.58,398.46 L463.92,398.59 L466.27,398.71 L468.62,398.83 L470.99,398.95 L473.36,399.07 L475.74,399.18 L478.13,399.30 L480.53,399.41 L482.93,399.53 L485.34,399.64 L487.76,399.75 L490.19,399.87 L492.63,399.98 L495.08,400.09 L497.53,400.19 L499.99,400.30 L502.47,400.41 L504.94,400.51 L507.43,400.62 L509.93,400.72 L512.43,400.83 L514.94,400.93 L517.46,401.03 L519.99,401.13 L522.53,401.23 L525.07,401.33 L527.63,401.43 L530.19,401.53 L532.76,401.63 L535.34,401.72 L537.92,401.82 L540.52,401.91 L543.12,402.01 L545.73,402.10 L548.35,402.19 L550.98,402.28 L553.62,402.37 L556.26,402.46 L558.92,402.55 L561.58,402.64 L564.25,402.73 L566.92,402.82 L569.61,402.91 L572.31,402.99 L575.01,403.08 L577.72,403.16 L580.44,403.25 L583.17,403.33 L585.91,403.41 L588.65,403.49 L591.41,403.58 L594.17,403.66 L596.94,403.74 L599.72,403.82 L602.50,403.90 L605.30,403.98" fill="none" stroke="#a61515" stroke-width="1.2" stroke-linejoin="round"/>
<path d="M72.2,0 V437.35 H631" fill="none" stroke="#262626" stroke-width="1.2" stroke-linejoin="miter"/>
<path d="M69.2,355.20 H72.2" stroke="#262626" stroke-width="1.1"/>
<text transform="translate(66.4,362.60) scale(0.98,1.035)" text-anchor="end" class="t">0.1</text>
<path d="M69.2,265.70 H72.2" stroke="#262626" stroke-width="1.1"/>
<text transform="translate(66.4,273.10) scale(0.98,1.035)" text-anchor="end" class="t">0.2</text>
<path d="M69.2,176.20 H72.2" stroke="#262626" stroke-width="1.1"/>
<text transform="translate(66.4,183.60) scale(0.98,1.035)" text-anchor="end" class="t">0.3</text>
<path d="M69.2,86.70 H72.2" stroke="#262626" stroke-width="1.1"/>
<text transform="translate(66.4,94.10) scale(0.98,1.035)" text-anchor="end" class="t">0.4</text>
<path d="M97.50,437.35 V440.3" stroke="#262626" stroke-width="1.1"/>
<text transform="translate(97.50,457.45) scale(1,1.035)" text-anchor="middle" class="t">0</text>
<path d="M230.30,437.35 V440.3" stroke="#262626" stroke-width="1.1"/>
<text transform="translate(230.30,457.45) scale(1,1.035)" text-anchor="middle" class="t">0.5</text>
<path d="M363.10,437.35 V440.3" stroke="#262626" stroke-width="1.1"/>
<text transform="translate(363.10,457.45) scale(1,1.035)" text-anchor="middle" class="t">1</text>
<path d="M495.90,437.35 V440.3" stroke="#262626" stroke-width="1.1"/>
<text transform="translate(495.90,457.45) scale(1,1.035)" text-anchor="middle" class="t">1.5</text>
<path d="M628.70,437.35 V440.3" stroke="#262626" stroke-width="1.1"/>
<text transform="translate(628.70,457.45) scale(1,1.035)" text-anchor="middle" class="t">2</text>
<text transform="translate(352.4,485.1) scale(1.006,1.04)" text-anchor="middle" class="ttl">Distance (MB)</text>
<text transform="translate(29.9,229.6) rotate(-90)" class="ttl">r<tspan dy="-15" font-size="21" stroke-width="0.2">2</tspan></text>
</svg>
</body></html>
